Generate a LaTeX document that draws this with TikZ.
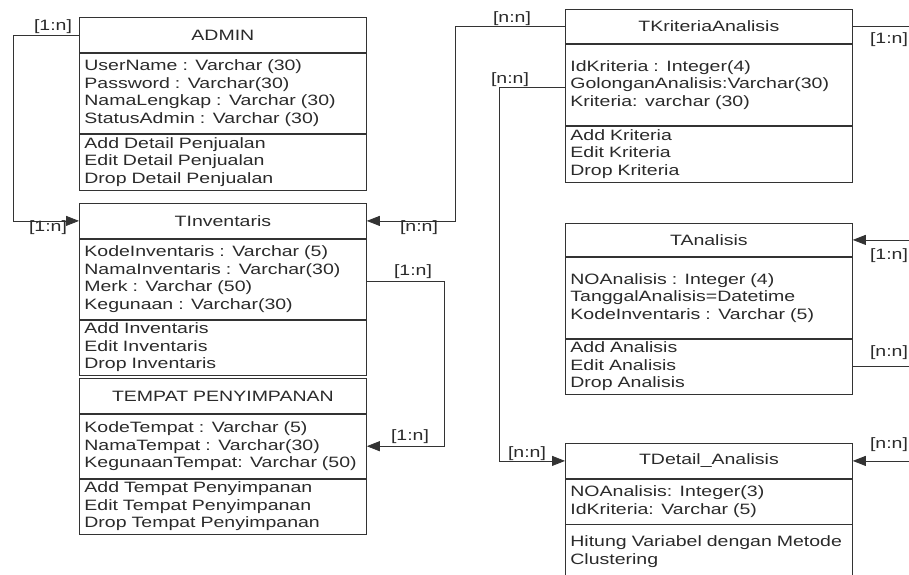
\documentclass[tikz,border=0pt]{standalone}
\usepackage{fontspec}
\setmainfont{Liberation Sans}[FakeStretch=1.3]
\usetikzlibrary{arrows.meta}
\definecolor{ln}{HTML}{333333}
\definecolor{txt}{HTML}{2A2A2A}
\newcommand\clsfont{\fontsize{15}{17.5}\selectfont}
\begin{document}
\begin{tikzpicture}[x=1pt,y=-1pt,
  hdr/.style={draw=ln, line width=0.8pt, text=txt, font=\clsfont,
    text width=277pt, align=center, inner xsep=5pt, inner ysep=0pt},
  sec/.style={draw=ln, line width=0.8pt, text=txt, font=\clsfont,
    text width=277pt, align=left, inner xsep=5pt, inner ysep=0pt},
  conn/.style={draw=ln, line width=0.8pt},
  arr/.style={conn, -{Triangle[length=13pt,width=10pt]}},
  card/.style={text=txt, font=\clsfont, inner sep=0pt}]
\clip (0,0) rectangle (909,574);
\useasboundingbox (0,0) rectangle (909,574);

% ---------- ADMIN ----------
\node[hdr, anchor=north west, minimum height=35pt] (adm) at (79,17) {ADMIN};
\node[sec, anchor=north, minimum height=80pt] (admA) at (adm.south)
  {UserName : Varchar (30)\\Password : Varchar(30)\\NamaLengkap : Varchar (30)\\StatusAdmin : Varchar (30)};
\node[sec, anchor=north, minimum height=56pt] (admM) at (admA.south)
  {Add Detail Penjualan\\Edit Detail Penjualan\\Drop Detail Penjualan};

% ---------- TInventaris ----------
\node[hdr, anchor=north west, minimum height=35pt] (inv) at (79,203) {TInventaris};
\node[sec, anchor=north, minimum height=80pt] (invA) at (inv.south)
  {KodeInventaris : Varchar (5)\\NamaInventaris : Varchar(30)\\Merk : Varchar (50)\\Kegunaan : Varchar(30)};
\node[sec, anchor=north, minimum height=55pt] (invM) at (invA.south)
  {Add Inventaris\\Edit Inventaris\\Drop Inventaris};

% ---------- TEMPAT PENYIMPANAN ----------
\node[hdr, anchor=north west, minimum height=35pt] (tmp) at (79,378) {TEMPAT PENYIMPANAN};
\node[sec, anchor=north, minimum height=64pt] (tmpA) at (tmp.south)
  {KodeTempat : Varchar (5)\\NamaTempat : Varchar(30)\\KegunaanTempat: Varchar (50)};
\node[sec, anchor=north, minimum height=55pt] (tmpM) at (tmpA.south)
  {Add Tempat Penyimpanan\\Edit Tempat Penyimpanan\\Drop Tempat Penyimpanan};

% ---------- TKriteriaAnalisis ----------
\node[hdr, anchor=north west, minimum height=34pt] (kri) at (565,9) {TKriteriaAnalisis};
\node[sec, anchor=north, minimum height=81pt] (kriA) at (kri.south)
  {IdKriteria : Integer(4)\\GolonganAnalisis:Varchar(30)\\Kriteria: varchar (30)};
\node[sec, anchor=north, minimum height=56pt] (kriM) at (kriA.south)
  {Add Kriteria\\Edit Kriteria\\Drop Kriteria};

% ---------- TAnalisis ----------
\node[hdr, anchor=north west, minimum height=33pt] (ana) at (565,223) {TAnalisis};
\node[sec, anchor=north, minimum height=81pt] (anaA) at (ana.south)
  {NOAnalisis : Integer (4)\\TanggalAnalisis=Datetime\\KodeInventaris : Varchar (5)};
\node[sec, anchor=north, minimum height=55pt] (anaM) at (anaA.south)
  {Add Analisis\\Edit Analisis\\Drop Analisis};

% ---------- TDetail_Analisis ----------
\node[hdr, anchor=north west, minimum height=35pt] (det) at (565,443) {TDetail\_Analisis};
\node[sec, anchor=north, minimum height=45pt] (detA) at (det.south)
  {NOAnalisis: Integer(3)\\IdKriteria: Varchar (5)};
\node[sec, draw=none, anchor=north, inner ysep=11pt] (detM) at (detA.south)
  {Hitung Variabel dengan Metode\\Clustering};
\draw[conn] (detA.south west) -- ++(0,80);
\draw[conn] (detA.south east) -- ++(0,80);

% ---------- connectors ----------
\draw[arr] (adm.west) -- ++(-66,0) |- (inv.west);
\draw[arr] (kri.west) -- ++(-110,0) |- (inv.east);
\draw[arr] ([yshift=-2pt]invA.east) -- ++(78,0) |- (tmpA.east);
\draw[arr] ([yshift=-2.5pt]kriA.west) -- ++(-66,0) |- (det.west);
\draw[conn] (kri.east) -- ++(70,0);
\draw[arr] ([xshift=70pt]ana.east) -- (ana.east);
\draw[conn] (anaM.east) -- ++(70,0);
\draw[arr] ([xshift=70pt]det.east) -- (det.east);

% ---------- cardinalities ----------
\node[card] (c1) at (53,27) {[1:n]};
\node[card] (c2) at (48,228) {[1:n]};
\node[card] (c3) at (419,228) {[n:n]};
\node[card] (c4) at (413,272) {[1:n]};
\node[card] (c5) at (410,437) {[1:n]};
\node[card] (c6) at (512,19) {[n:n]};
\node[card] (c7) at (510,80) {[n:n]};
\node[card] (c8) at (889,40) {[1:n]};
\node[card] (c9) at (889,256) {[1:n]};
\node[card] (c10) at (889,353) {[n:n]};
\node[card] (c11) at (889,445) {[n:n]};
\node[card] (c12) at (527,454) {[n:n]};
\end{tikzpicture}
\end{document}
